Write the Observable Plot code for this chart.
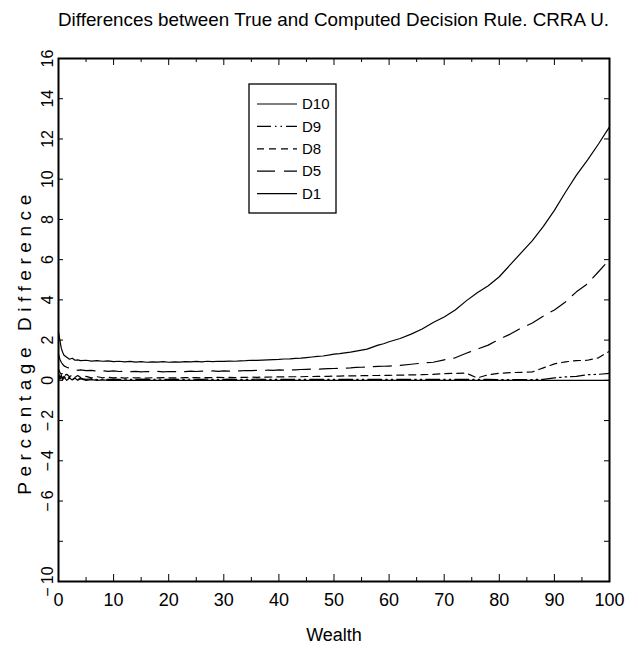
<!DOCTYPE html>
<html><head><meta charset="utf-8">
<script src="https://cdn.jsdelivr.net/npm/d3@7"></script>
<script src="https://cdn.jsdelivr.net/npm/@observablehq/plot@0.6"></script>
<style>
html,body{margin:0;padding:0;background:#fff;overflow:hidden}
#wrap{position:relative;width:638px;height:652px;background:#fff}
svg{display:block}
</style></head><body><div id="wrap"></div>
<script>
// ---- text ----
const title = "Differences between True and Computed Decision Rule. CRRA U.";
const xLabel = "Wealth";
const yLabel = "Percentage Difference";

// ---- ticks ----
const xTickLabels = [0,10,20,30,40,50,60,70,80,90,100];
const xMajorTicks = [10,20,30,40,50,60,70,80,90];
const xMinorTicks = [5,15,25,35,45,55,65,75,85,95];
const yTickLabels = [-10,-6,-4,-2,0,2,4,6,8,10,12,14,16];
const yInnerTicks = [-8,-6,-4,-2,0,2,4,6,8,10,12,14];

// ---- series ----
const seriesNames = ["D10","D9","D8","D5","D1"];
const wealth = [
  0,0.25,0.5,0.75,1,1.5,2,2.5,3,3.5,
  4,5,6,7,8,9,10,11,12,13,
  14,15,16,17,18,19,20,21,22,23,
  24,25,26,27,28,29,30,31,32,33,
  34,35,36,37,38,39,40,41,42,43,
  44,45,46,47,48,49,50,51,52,53,
  54,55,56,57,58,59,60,62,64,66,
  68,70,72,74,76,78,80,82,84,86,
  88,90,92,94,96,98,100
];
const d1 = [
  2.4,2.0,1.6,1.4,1.25,1.15,1.05,1.1,1.0,1.02,
  0.98,1.0,0.96,0.98,0.95,0.97,0.93,0.95,0.92,0.94,
  0.91,0.93,0.90,0.92,0.91,0.93,0.90,0.92,0.91,0.93,
  0.92,0.94,0.92,0.95,0.93,0.95,0.94,0.96,0.95,0.97,
  0.98,1.0,0.99,1.01,1.02,1.03,1.04,1.06,1.07,1.09,
  1.1,1.13,1.16,1.19,1.21,1.25,1.3,1.33,1.37,1.4,
  1.45,1.5,1.55,1.65,1.75,1.82,1.92,2.08,2.3,2.55,
  2.88,3.15,3.5,3.95,4.35,4.7,5.15,5.75,6.35,6.95,
  7.65,8.45,9.35,10.2,10.95,11.75,12.6
];
const d5 = [
  1.3,1.05,0.9,0.8,0.72,0.65,0.6,0.56,0.54,0.5,
  0.52,0.48,0.5,0.46,0.48,0.45,0.47,0.44,0.46,0.43,
  0.45,0.42,0.44,0.43,0.45,0.42,0.44,0.43,0.45,0.43,
  0.46,0.44,0.46,0.45,0.47,0.45,0.47,0.46,0.48,0.47,
  0.49,0.48,0.5,0.49,0.51,0.5,0.52,0.51,0.53,0.52,
  0.54,0.55,0.56,0.55,0.57,0.58,0.59,0.6,0.61,0.62,
  0.64,0.65,0.66,0.68,0.69,0.7,0.71,0.74,0.8,0.86,
  0.9,1.02,1.12,1.35,1.55,1.75,2.05,2.3,2.6,2.85,
  3.2,3.5,3.9,4.4,4.8,5.4,6.0
];
const d8 = [
  0.55,0.4,0.3,0.35,0.22,0.3,0.18,0.26,0.15,0.24,
  0.14,0.2,0.12,0.18,0.13,0.16,0.12,0.15,0.11,0.14,
  0.12,0.13,0.11,0.13,0.12,0.14,0.12,0.13,0.12,0.14,
  0.13,0.14,0.12,0.14,0.13,0.15,0.14,0.15,0.14,0.15,
  0.15,0.16,0.15,0.16,0.16,0.17,0.17,0.17,0.18,0.18,
  0.18,0.19,0.19,0.2,0.2,0.2,0.21,0.21,0.22,0.22,
  0.22,0.23,0.23,0.24,0.24,0.25,0.25,0.26,0.27,0.28,
  0.3,0.33,0.35,0.36,0.12,0.28,0.35,0.38,0.4,0.42,
  0.62,0.82,0.92,0.98,1.0,1.12,1.45
];
const d9 = [
  0.35,0.15,0.25,0.1,0.2,0.08,0.15,0.06,0.12,0.05,
  0.1,0.05,0.08,0.04,0.06,0.05,0.06,0.05,0.06,0.05,
  0.05,0.06,0.05,0.05,0.06,0.05,0.05,0.06,0.05,0.05,
  0.06,0.05,0.05,0.06,0.05,0.05,0.05,0.06,0.05,0.05,
  0.05,0.05,0.06,0.05,0.05,0.05,0.05,0.05,0.05,0.05,
  0.05,0.05,0.05,0.05,0.05,0.05,0.05,0.05,0.05,0.05,
  0.05,0.05,0.05,0.05,0.05,0.05,0.05,0.05,0.05,0.05,
  0.05,0.05,0.05,0.05,0.05,0.05,0.04,0.04,0.04,0.04,
  0.05,0.12,0.17,0.2,0.28,0.3,0.35
];
const d10 = [
  0.25,0.05,0.18,0.02,0.15,0.0,0.12,0.02,0.1,0.0,
  0.08,0.0,0.04,0.0,0.02,0,0,0,0,0,
  0,0,0,0,0,0,0,0,0,0,
  0,0,0,0,0,0,0,0,0,0,
  0,0,0,0,0,0,0,0,0,0,
  0,0,0,0,0,0,0,0,0,0,
  0,0,0,0,0,0,0,0,0,0,
  0,0,0,0,0,0,0,0,0,0,
  0,0,0,0,0,0,0
];

// ---- styles ----
const valuesBySeries = {D10: d10, D9: d9, D8: d8, D5: d5, D1: d1};
const dash = {D10: null, D9: "14,4,1.5,4,1.5,4", D8: "7,5", D5: "18,9", D1: null};
const rows = seriesNames.flatMap(s => wealth.map((w, i) => ({series: s, wealth: w, value: valuesBySeries[s][i]})));

const FW = 551, FH = 523;
const font = "'Liberation Sans', Arial, sans-serif";
const fmt = d => d < 0 ? "\u2212\u2009" + Math.abs(d) : String(d);

const wrap = document.getElementById("wrap");

// title
const tsvg = d3.create("svg").attr("width", 638).attr("height", 40);
tsvg.append("text").attr("x", 333.5).attr("y", 26).attr("text-anchor", "middle")
  .attr("font-family", font).attr("font-size", 19).attr("fill", "black")
  .attr("textLength", 551).attr("lengthAdjust", "spacingAndGlyphs").text(title);
wrap.appendChild(tsvg.node());

const lineMarks = seriesNames.map(s => Plot.line(rows, {
  filter: d => d.series === s, x: "wealth", y: "value",
  stroke: "black", strokeWidth: 1.2, strokeDasharray: dash[s] || undefined
}));

const chart = Plot.plot({
  width: 638, height: 612,
  marginTop: 18, marginBottom: 71, marginLeft: 58, marginRight: 29,
  x: {domain: [0, 100]},
  y: {domain: [-10, 16]},
  style: {background: "white", color: "black", fontFamily: font, fontSize: "18px", overflow: "visible"},
  marks: [
    ...lineMarks,
    Plot.ruleX(xMinorTicks, {x: d => d, insetBottom: FH - 4, stroke: "black"}),
    Plot.ruleX(xMajorTicks, {x: d => d, insetBottom: FH - 7, stroke: "black"}),
    Plot.ruleX(xMinorTicks, {x: d => d, insetTop: FH - 4, stroke: "black"}),
    Plot.ruleX(xMajorTicks, {x: d => d, insetTop: FH - 7, stroke: "black"}),
    Plot.ruleY(yInnerTicks, {y: d => d, insetRight: FW - 5, stroke: "black"}),
    Plot.ruleY(yInnerTicks, {y: d => d, insetLeft: FW - 5, stroke: "black"}),
    Plot.frame({stroke: "black", strokeWidth: 2}),
    Plot.axisX({ticks: xTickLabels, tickSize: 0, tickPadding: 12, fontSize: 18, fontFamily: font, label: null, tickFormat: fmt}),
    Plot.axisY({ticks: yTickLabels, tickSize: 0, tickRotate: -90, textAnchor: "middle", lineAnchor: "middle", tickPadding: 11, fontSize: 16, fontFamily: font, label: null, tickFormat: fmt}),
    Plot.text([xLabel], {text: d => d, frameAnchor: "bottom", dy: 54, lineAnchor: "middle", fontSize: 18, fontFamily: font, fill: "black"}),
    Plot.text([yLabel], {text: d => d, frameAnchor: "left", rotate: -90, dx: -34, dy: 22, textAnchor: "middle", lineAnchor: "middle", fontSize: 19, fontFamily: font, fill: "black"})
  ]
});
wrap.appendChild(chart);
d3.select(chart).selectAll("text").filter(function() { return this.textContent === yLabel; })
  .each(function() {
    const natural = this.getComputedTextLength();
    const sp = Math.max(0, (300 - natural) / (yLabel.length - 1));
    d3.select(this).style("letter-spacing", sp + "px");
  });

// legend
const lg = d3.create("svg").attr("width", 90).attr("height", 132)
  .style("position", "absolute").style("left", "248px").style("top", "83px");
lg.append("rect").attr("x", 1).attr("y", 1).attr("width", 87).attr("height", 129)
  .attr("fill", "white").attr("stroke", "black").attr("stroke-width", 1.3);
seriesNames.forEach((s, i) => {
  const y = 21 + i * 22.4;
  lg.append("line").attr("x1", 9).attr("x2", 49).attr("y1", y).attr("y2", y)
    .attr("stroke", "black").attr("stroke-width", 1.2).attr("stroke-dasharray", dash[s]);
  lg.append("text").attr("x", 54).attr("y", y).attr("dy", "0.35em")
    .attr("font-family", font).attr("font-size", 15).attr("fill", "black").text(s);
});
wrap.appendChild(lg.node());
</script></body></html>
